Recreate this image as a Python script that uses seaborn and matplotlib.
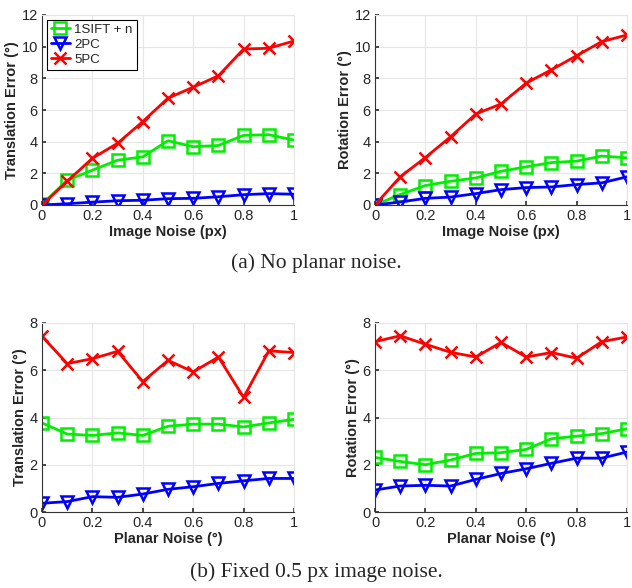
import pandas as pd
import seaborn as sns
import matplotlib.pyplot as plt

# noise levels on x
noise = [0.0, 0.1, 0.2, 0.3, 0.4, 0.5, 0.6, 0.7, 0.8, 0.9, 1.0]
methods = ["1SIFT + n", "2PC", "5PC"]

# (a) no planar noise, x = image noise (px)
a_trans_sift = [0.05, 1.56, 2.2, 2.83, 3.04, 4.06, 3.68, 3.76, 4.4, 4.44, 4.1]
a_trans_2pc = [0.0, 0.08, 0.18, 0.27, 0.3, 0.4, 0.42, 0.52, 0.65, 0.72, 0.68]
a_trans_5pc = [0.0, 1.5, 2.95, 3.9, 5.27, 6.75, 7.44, 8.16, 9.85, 9.9, 10.36]
a_rot_sift = [0.0, 0.66, 1.23, 1.5, 1.71, 2.13, 2.41, 2.68, 2.77, 3.09, 2.98]
a_rot_2pc = [0.0, 0.19, 0.42, 0.5, 0.72, 0.97, 1.1, 1.14, 1.29, 1.4, 1.78]
a_rot_5pc = [0.0, 1.78, 3.0, 4.31, 5.75, 6.38, 7.7, 8.54, 9.43, 10.32, 10.74]

# (b) fixed 0.5 px image noise, x = planar noise (deg)
b_trans_sift = [3.77, 3.3, 3.24, 3.35, 3.24, 3.63, 3.72, 3.72, 3.6, 3.77, 3.92]
b_trans_2pc = [0.37, 0.44, 0.65, 0.62, 0.76, 0.96, 1.07, 1.21, 1.32, 1.42, 1.42]
b_trans_5pc = [7.44, 6.28, 6.49, 6.8, 5.52, 6.42, 5.93, 6.56, 4.85, 6.82, 6.75]
b_rot_sift = [2.31, 2.14, 2.0, 2.2, 2.48, 2.51, 2.65, 3.1, 3.21, 3.32, 3.52]
b_rot_2pc = [0.93, 1.1, 1.13, 1.1, 1.38, 1.63, 1.83, 2.06, 2.28, 2.28, 2.54]
b_rot_5pc = [7.21, 7.46, 7.1, 6.76, 6.56, 7.18, 6.56, 6.75, 6.51, 7.21, 7.41]

colors = {"1SIFT + n": "#00ee00", "2PC": "#0000ff", "5PC": "#ff0000"}
markers = {"1SIFT + n": "s", "2PC": "v", "5PC": "x"}

sns.set_theme(style="whitegrid")
plt.rcParams["font.family"] = ["Liberation Sans", "DejaVu Sans"]


def make_df(sift, pc2, pc5):
    rows = []
    for name, vals in zip(methods, [sift, pc2, pc5]):
        for x, y in zip(noise, vals):
            rows.append({"noise": x, "err": y, "method": name})
    return pd.DataFrame(rows)


def draw(ax, df, ymax, ylabel, xlabel, legend=False):
    for name in methods:
        sub = df[df["method"] == name]
        sns.lineplot(data=sub, x="noise", y="err", ax=ax, color=colors[name],
                     marker=markers[name], markersize=8, fillstyle="none",
                     markeredgewidth=1.8, markeredgecolor=colors[name],
                     linewidth=2, label=name if legend else None)
    ax.set_xlim(0, 1)
    ax.set_ylim(0, ymax)
    ax.set_xticks([0, 0.2, 0.4, 0.6, 0.8, 1])
    ax.set_xticklabels(["0", "0.2", "0.4", "0.6", "0.8", "1"])
    ax.set_yticks(range(0, ymax + 1, 2))
    ax.set_xlabel(xlabel, fontsize=10.5, fontweight="bold", labelpad=1)
    ax.set_ylabel(ylabel, fontsize=10.5, fontweight="bold", labelpad=2)
    ax.tick_params(labelsize=10.5, direction="in", length=3, pad=3,
                   left=True, bottom=True, color="#333333")
    ax.grid(True, color="#e6e6e6", linewidth=0.8)
    for side in ["left", "bottom"]:
        ax.spines[side].set_color("#333333")
        ax.spines[side].set_linewidth(0.8)
    for side in ["top", "right"]:
        ax.spines[side].set_color("#e6e6e6")
        ax.spines[side].set_linewidth(0.8)
    if legend:
        leg = ax.legend(loc="upper left", fontsize=9.5, frameon=True,
                        fancybox=False, borderpad=0.3, handlelength=1.5,
                        labelspacing=0.2, handletextpad=0.3,
                        borderaxespad=0.35)
        leg.get_frame().set_edgecolor("black")
        leg.get_frame().set_linewidth(0.8)
        leg.get_frame().set_alpha(1)
    elif ax.get_legend() is not None:
        ax.get_legend().remove()


fig = plt.figure(figsize=(6.32, 5.88), dpi=100)
W, H = 632, 588
boxes = [(42, 15, 294, 205), (375, 15, 627, 205),
         (42, 323, 294, 512), (375, 323, 627, 512)]
axes = [fig.add_axes([l / W, 1 - b / H, (r - l) / W, (b - t) / H])
        for (l, t, r, b) in boxes]

draw(axes[0], make_df(a_trans_sift, a_trans_2pc, a_trans_5pc), 12,
     "Translation Error (°)", "Image Noise (px)", legend=True)
draw(axes[1], make_df(a_rot_sift, a_rot_2pc, a_rot_5pc), 12,
     "Rotation Error (°)", "Image Noise (px)")
draw(axes[2], make_df(b_trans_sift, b_trans_2pc, b_trans_5pc), 8,
     "Translation Error (°)", "Planar Noise (°)")
draw(axes[3], make_df(b_rot_sift, b_rot_2pc, b_rot_5pc), 8,
     "Rotation Error (°)", "Planar Noise (°)")

fig.text(316 / W, 1 - 263 / H, "(a) No planar noise.", ha="center",
         va="center", fontsize=15.5, family="Liberation Serif")
fig.text(316 / W, 1 - 572 / H, "(b) Fixed 0.5 px image noise.", ha="center",
         va="center", fontsize=15.5, family="Liberation Serif")

fig.savefig("out.png", dpi=100)
